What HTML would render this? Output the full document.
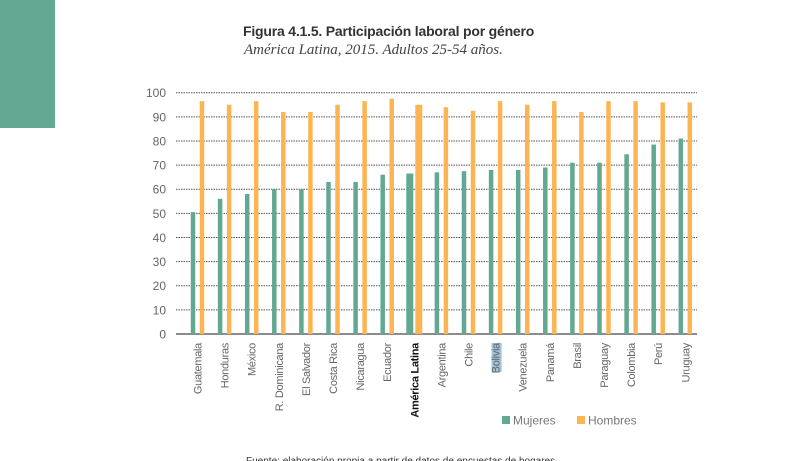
<!DOCTYPE html>
<html><head><meta charset="utf-8">
<style>
body{margin:0;width:791px;height:461px;background:#fff;overflow:hidden;position:relative;font-family:"Liberation Sans",sans-serif}
#teal{position:absolute;left:0;top:0;width:55px;height:128px;background:#62a892}
#title{position:absolute;left:243px;top:23px;font-size:14px;font-weight:bold;color:#333;letter-spacing:-0.2px}
#sub{position:absolute;left:244px;top:42px;font-family:"Liberation Serif",serif;font-style:italic;font-size:15px;color:#444}
svg{position:absolute;left:0;top:0}
</style></head><body>
<div id="teal"></div>
<div id="title">Figura 4.1.5. Participación laboral por género</div>
<div id="sub">América Latina, 2015. Adultos 25-54 años.</div>
<svg id="chart" width="791" height="461"></svg>
<script>
const categories=["Guatemala","Honduras","México","R. Dominicana","El Salvador","Costa Rica","Nicaragua","Ecuador","América Latina","Argentina","Chile","Bolivia","Venezuela","Panamá","Brasil","Paraguay","Colombia","Perú","Uruguay"];
const mujeres=[50.5,56,58,60,60,63,63,66,66.5,67,67.5,68,68,69,71,71,74.5,78.5,81];
const hombres=[96.5,95,96.5,92,92,95,96.5,97.5,95,94,92.5,96.5,95,96.5,92,96.5,96.5,96,96];
const yTicks=[0,10,20,30,40,50,60,70,80,90,100];
const NS="http://www.w3.org/2000/svg";
const svg=document.getElementById('chart');
const y0=334,y100=92.7;
function yS(v){return y0-(y0-y100)*v/100;}
function xS(i){return 193+27.1*i;}
function mk(t,a){const e=document.createElementNS(NS,t);for(const k in a)e.setAttribute(k,a[k]);svg.appendChild(e);return e;}
yTicks.forEach(v=>{
  const l=mk('line',{x1:176,x2:697,y1:yS(v),y2:yS(v),stroke:v===0?'#666':'#555','stroke-width':v===0?1.5:1,'stroke-dasharray':v===0?'':'1.5,1'});
  
  
  const t=mk('text',{x:166,y:yS(v)+4.5,'text-anchor':'end','font-size':12,fill:'#666','font-family':'Liberation Sans, sans-serif'});
  t.textContent=v;
  
  
});
categories.forEach((c,i)=>{
  const wide=c==="América Latina";
  const w=wide?7:4.5;
  const gx=xS(i)-w/2, ox=xS(i)+(wide?9:9)-w/2;
  const g=mk('rect',{x:gx,y:yS(mujeres[i]),width:w,height:y0-yS(mujeres[i]),fill:'#62a892'});
  
  
  const o=mk('rect',{x:ox,y:yS(hombres[i]),width:w,height:y0-yS(hombres[i]),fill:'#fdb553'});
  
  
  const lx=xS(i)+8.5;
  if(c==="Bolivia"){
    const hl=mk('rect',{x:lx-8,y:343,width:10,height:29,fill:'#9fc3dc'});
    
    
  }
  const t=mk('text',{x:lx,y:343,transform:`rotate(-90 ${lx} 343)`,'text-anchor':'end','font-size':11,fill:wide?'#111':'#666','font-weight':wide?'bold':'normal','font-family':'Liberation Sans, sans-serif','letter-spacing':'-0.3'});
  t.textContent=c;
  
  
});
const lg1=mk('rect',{x:502,y:416,width:8,height:8,fill:'#62a892'});


const lt1=mk('text',{x:513,y:424.5,'font-size':12,fill:'#777','font-family':'Liberation Sans, sans-serif'});lt1.textContent='Mujeres';


const lg2=mk('rect',{x:577,y:416,width:8,height:8,fill:'#fdb553'});


const lt2=mk('text',{x:588,y:424.5,'font-size':12,fill:'#777','font-family':'Liberation Sans, sans-serif'});lt2.textContent='Hombres';


const src=mk('text',{x:246,y:464,'font-size':10,fill:'#333','font-family':'Liberation Sans, sans-serif'});src.textContent='Fuente: elaboración propia a partir de datos de encuestas de hogares';


</script>
</body></html>
